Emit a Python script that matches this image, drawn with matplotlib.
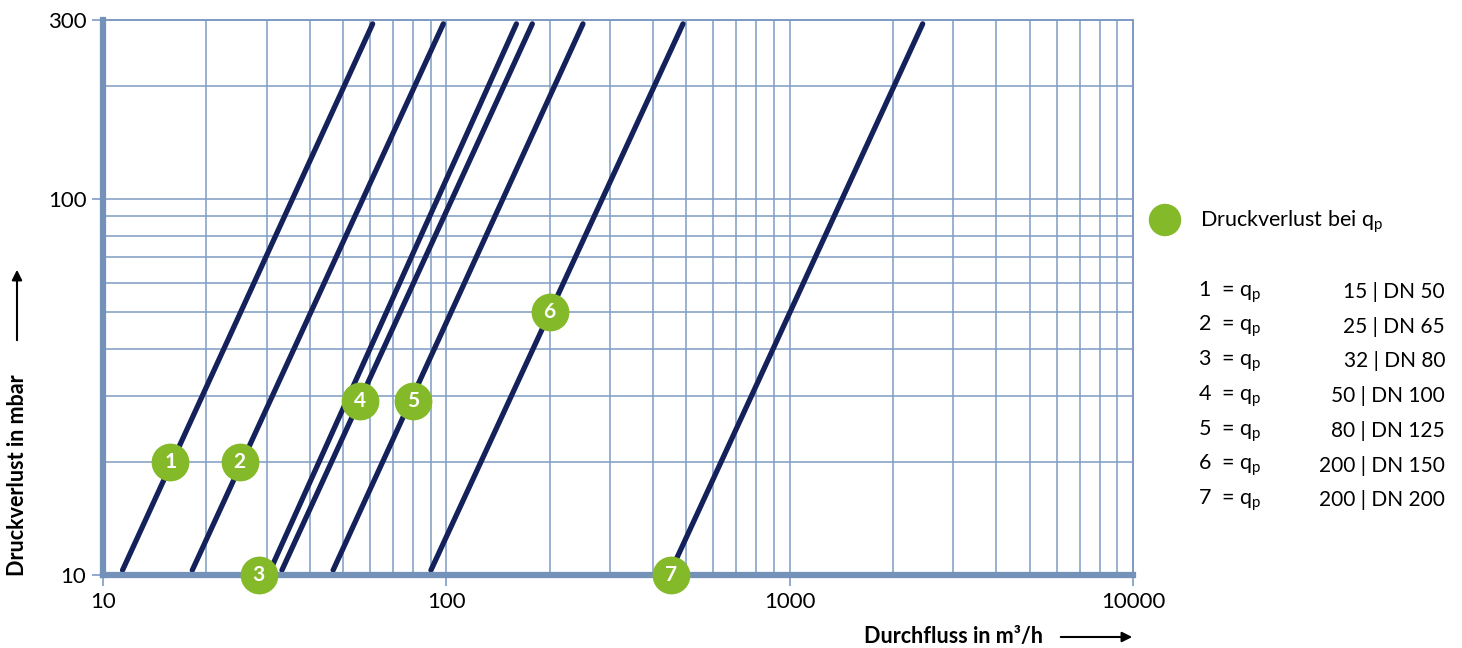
import matplotlib
matplotlib.use("Agg")
from matplotlib import pyplot as plt
from matplotlib.ticker import LogLocator, NullFormatter

plt.rcParams['font.family'] = ['Lato', 'DejaVu Sans']
plt.rcParams['mathtext.fontset'] = 'custom'
plt.rcParams['mathtext.rm'] = 'Lato'

# Kennlinien (Anfangs- und Endpunkte, log-log Geraden)
nummer = ['1', '2', '3', '4', '5', '6', '7']
flow_start = [11.4, 18.2, 30.7, 33.2, 46.8, 90.2, 452]
flow_end = [61, 98, 160, 178, 250, 489, 2440]
dp_start = [10.3, 10.3, 10.3, 10.3, 10.3, 10.3, 10.3]
dp_end = [293, 293, 293, 293, 293, 293, 293]

# Druckverlust bei qp
qp_flow = [15.7, 25, 28.4, 56, 80, 200, 450]
qp_dp = [20, 20, 10, 29, 29, 50, 10]
qp_text = ['15 | DN 50', '25 | DN 65', '32 | DN 80', '50 | DN 100',
           '80 | DN 125', '200 | DN 150', '200 | DN 200']

xticks = [10, 100, 1000, 10000]
yticks = [10, 100, 300]

W, H = 1462, 648
grid_c = '#7f9bc4'
spine_c = '#7391b9'
line_c = '#14215a'
green = '#84b929'

fig = plt.figure(figsize=(W / 100, H / 100), dpi=100)
ax = fig.add_axes([103 / W, 1 - 575 / H, (1133 - 103) / W, (575 - 20) / H])

ax.set_xscale('log')
ax.set_yscale('log')
ax.set_xlim(10, 10000)
ax.set_ylim(10, 300)

for i in range(len(nummer)):
    ax.plot([flow_start[i], flow_end[i]], [dp_start[i], dp_end[i]],
            color=line_c, lw=3.8, solid_capstyle='round', zorder=3)

ax.scatter(qp_flow, qp_dp, s=740, color=green, zorder=5, clip_on=False,
           linewidths=0)
for i in range(len(nummer)):
    ax.text(qp_flow[i], qp_dp[i], nummer[i], color='white', fontsize=15,
            fontweight='bold', ha='center', va='center', zorder=6)

# Gitter
ax.xaxis.set_minor_locator(LogLocator(base=10, subs=range(2, 10)))
ax.yaxis.set_minor_locator(LogLocator(base=10, subs=range(2, 10)))
ax.xaxis.set_minor_formatter(NullFormatter())
ax.yaxis.set_minor_formatter(NullFormatter())
ax.grid(which='both', color=grid_c, lw=1.1, zorder=1)
ax.set_axisbelow(True)

ax.set_xticks(xticks)
ax.set_xticklabels([str(v) for v in xticks])
ax.set_yticks(yticks)
ax.set_yticklabels([str(v) for v in yticks])
ax.tick_params(which='major', length=8, width=1.2, color=grid_c,
               labelsize=16, pad=4)
ax.tick_params(which='minor', length=0)

for s in ['left', 'bottom']:
    ax.spines[s].set_color(spine_c)
    ax.spines[s].set_linewidth(4.5)
    ax.spines[s].set_zorder(4)
for s in ['top', 'right']:
    ax.spines[s].set_color(grid_c)
    ax.spines[s].set_linewidth(1.4)


def fx(px):
    return px / W


def fy(py):
    return 1 - py / H


# Achsenbeschriftung
fig.text(fx(1043), fy(637), 'Durchfluss in m³/h', fontsize=15.5,
         fontweight='bold', ha='right', va='center')
fig.add_artist(matplotlib.patches.FancyArrowPatch(
    (fx(1058), fy(637)), (fx(1135), fy(637)), transform=fig.transFigure,
    arrowstyle='-|>', mutation_scale=15, color='black', lw=1.5))
fig.text(fx(18), fy(576), 'Druckverlust in mbar', fontsize=15.5,
         fontweight='bold', rotation=90, ha='center', va='bottom')
fig.add_artist(matplotlib.patches.FancyArrowPatch(
    (fx(17), fy(343)), (fx(17), fy(267)), transform=fig.transFigure,
    arrowstyle='-|>', mutation_scale=15, color='black', lw=1.5))

# Legende
fig.add_artist(matplotlib.patches.Ellipse(
    (fx(1165), fy(220)), 31 / W, 31 / H, transform=fig.transFigure,
    color=green))
fig.text(fx(1200), fy(222), r'Druckverlust bei $\mathregular{q_p}$',
         fontsize=15.5, ha='left', va='center')
for i in range(len(nummer)):
    y = 292 + i * 34.7
    fig.text(fx(1198), fy(y), nummer[i] + r'  = $\mathregular{q_p}$',
             fontsize=15.5, ha='left', va='center')
    fig.text(fx(1445), fy(y), qp_text[i], fontsize=15, ha='right',
             va='center')

plt.savefig('out.png', dpi=100)
